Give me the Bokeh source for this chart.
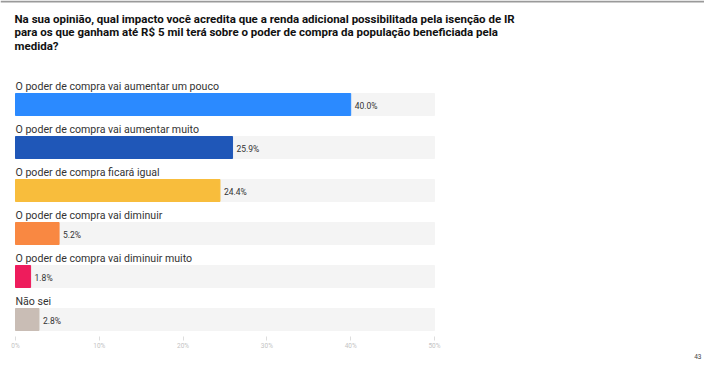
from bokeh.plotting import figure
from bokeh.models import Range1d, FixedTicker, CustomJSTickFormatter, Label, ColumnDataSource, LinearAxis, Title, Span
from bokeh.core.properties import value
from bokeh.embed import file_html
from bokeh.resources import INLINE

title_lines = [
    "Na sua opinião, qual impacto você acredita que a renda adicional possibilitada pela isenção de IR",
    "para os que ganham até R$ 5 mil terá sobre o poder de compra da população beneficiada pela",
    "medida?",
]
categories = [
    "O poder de compra vai aumentar um pouco",
    "O poder de compra vai aumentar muito",
    "O poder de compra ficará igual",
    "O poder de compra vai diminuir",
    "O poder de compra vai diminuir muito",
    "Não sei",
]
values = [40.0, 25.9, 24.4, 5.2, 1.8, 2.8]
colors = ["#2b8aff", "#1f57b8", "#f8bd3c", "#f98842", "#ee1c5c", "#c9bdb5"]
ticks = [0, 10, 20, 30, 40, 50]
page_number = "43"

W, H = 704, 364
ppx = 419 / 50.0            # pixels per percent
x0 = -15 / ppx
x1 = (W - 15) / ppx
frame_h = 336
row_px = 43.0
first_px = 104.0
y_start = (frame_h - first_px) / row_px
y_end = -first_px / row_px

p = figure(width=W, height=H, output_backend="svg", toolbar_location=None,
           x_range=Range1d(x0, x1), y_range=Range1d(y_start, y_end),
           min_border_left=0, min_border_right=0, min_border_top=0,
           min_border_bottom=H - frame_h, x_axis_location=None, y_axis_location=None)
p.outline_line_color = None
p.grid.visible = False
p.background_fill_color = "white"
p.border_fill_color = "white"

idx = list(range(len(categories)))
src = ColumnDataSource(dict(
    y=idx, v=values, c=colors, cat=categories,
    full=[50] * len(idx),
    lab=[f"{v:.1f}%" for v in values],
    ly=[i - 0.26 for i in idx],
))

bh = 22 / row_px
p.hbar(y="y", left=0, right="full", height=bh, color="#f4f4f4", source=src)
p.hbar(y="y", left=0, right="v", height=bh, color="c", source=src)

p.text(x=0, y="ly", text="cat", source=src, text_font=value("Roboto"),
       text_font_size="10.6px", text_color="#333333", text_baseline="bottom",
       text_align="left", y_offset=0)
p.text(x="v", y="y", text="lab", source=src, text_font=value("Roboto"),
       text_font_size="8.5px", text_color="#333333", text_baseline="middle",
       text_align="left", x_offset=4, y_offset=1)

p.add_layout(Span(location=(1 - first_px) / row_px, dimension="width",
                  line_color="#9a9a9a", line_width=2))

for k, line in enumerate(title_lines):
    y_px = 11 + 13.5 * k
    p.add_layout(Label(x=-1 / ppx, y=(y_px - first_px) / row_px, text=line,
                       text_font="Roboto", text_font_style="bold",
                       text_font_size="11.5px", text_color="#111111",
                       text_baseline="top", text_align="left"))

ax = LinearAxis(ticker=FixedTicker(ticks=ticks),
                formatter=CustomJSTickFormatter(code="return tick + '%';"))
ax.axis_line_color = None
ax.major_tick_line_color = "#dddddd"
ax.major_tick_in = 0
ax.major_tick_out = 4
ax.minor_tick_line_color = None
ax.major_label_text_color = "#c4c4c4"
ax.major_label_text_font = "Roboto"
ax.major_label_text_font_size = "6.5px"
ax.major_label_standoff = 1
p.add_layout(ax, "below")

p.add_layout(Title(text=page_number, align="right", text_font="Roboto",
                   text_font_size="6.5px", text_color="#444444",
                   text_font_style="normal", standoff=-13, offset=3), "below")

open("out.html", "w").write(file_html(p, INLINE))
